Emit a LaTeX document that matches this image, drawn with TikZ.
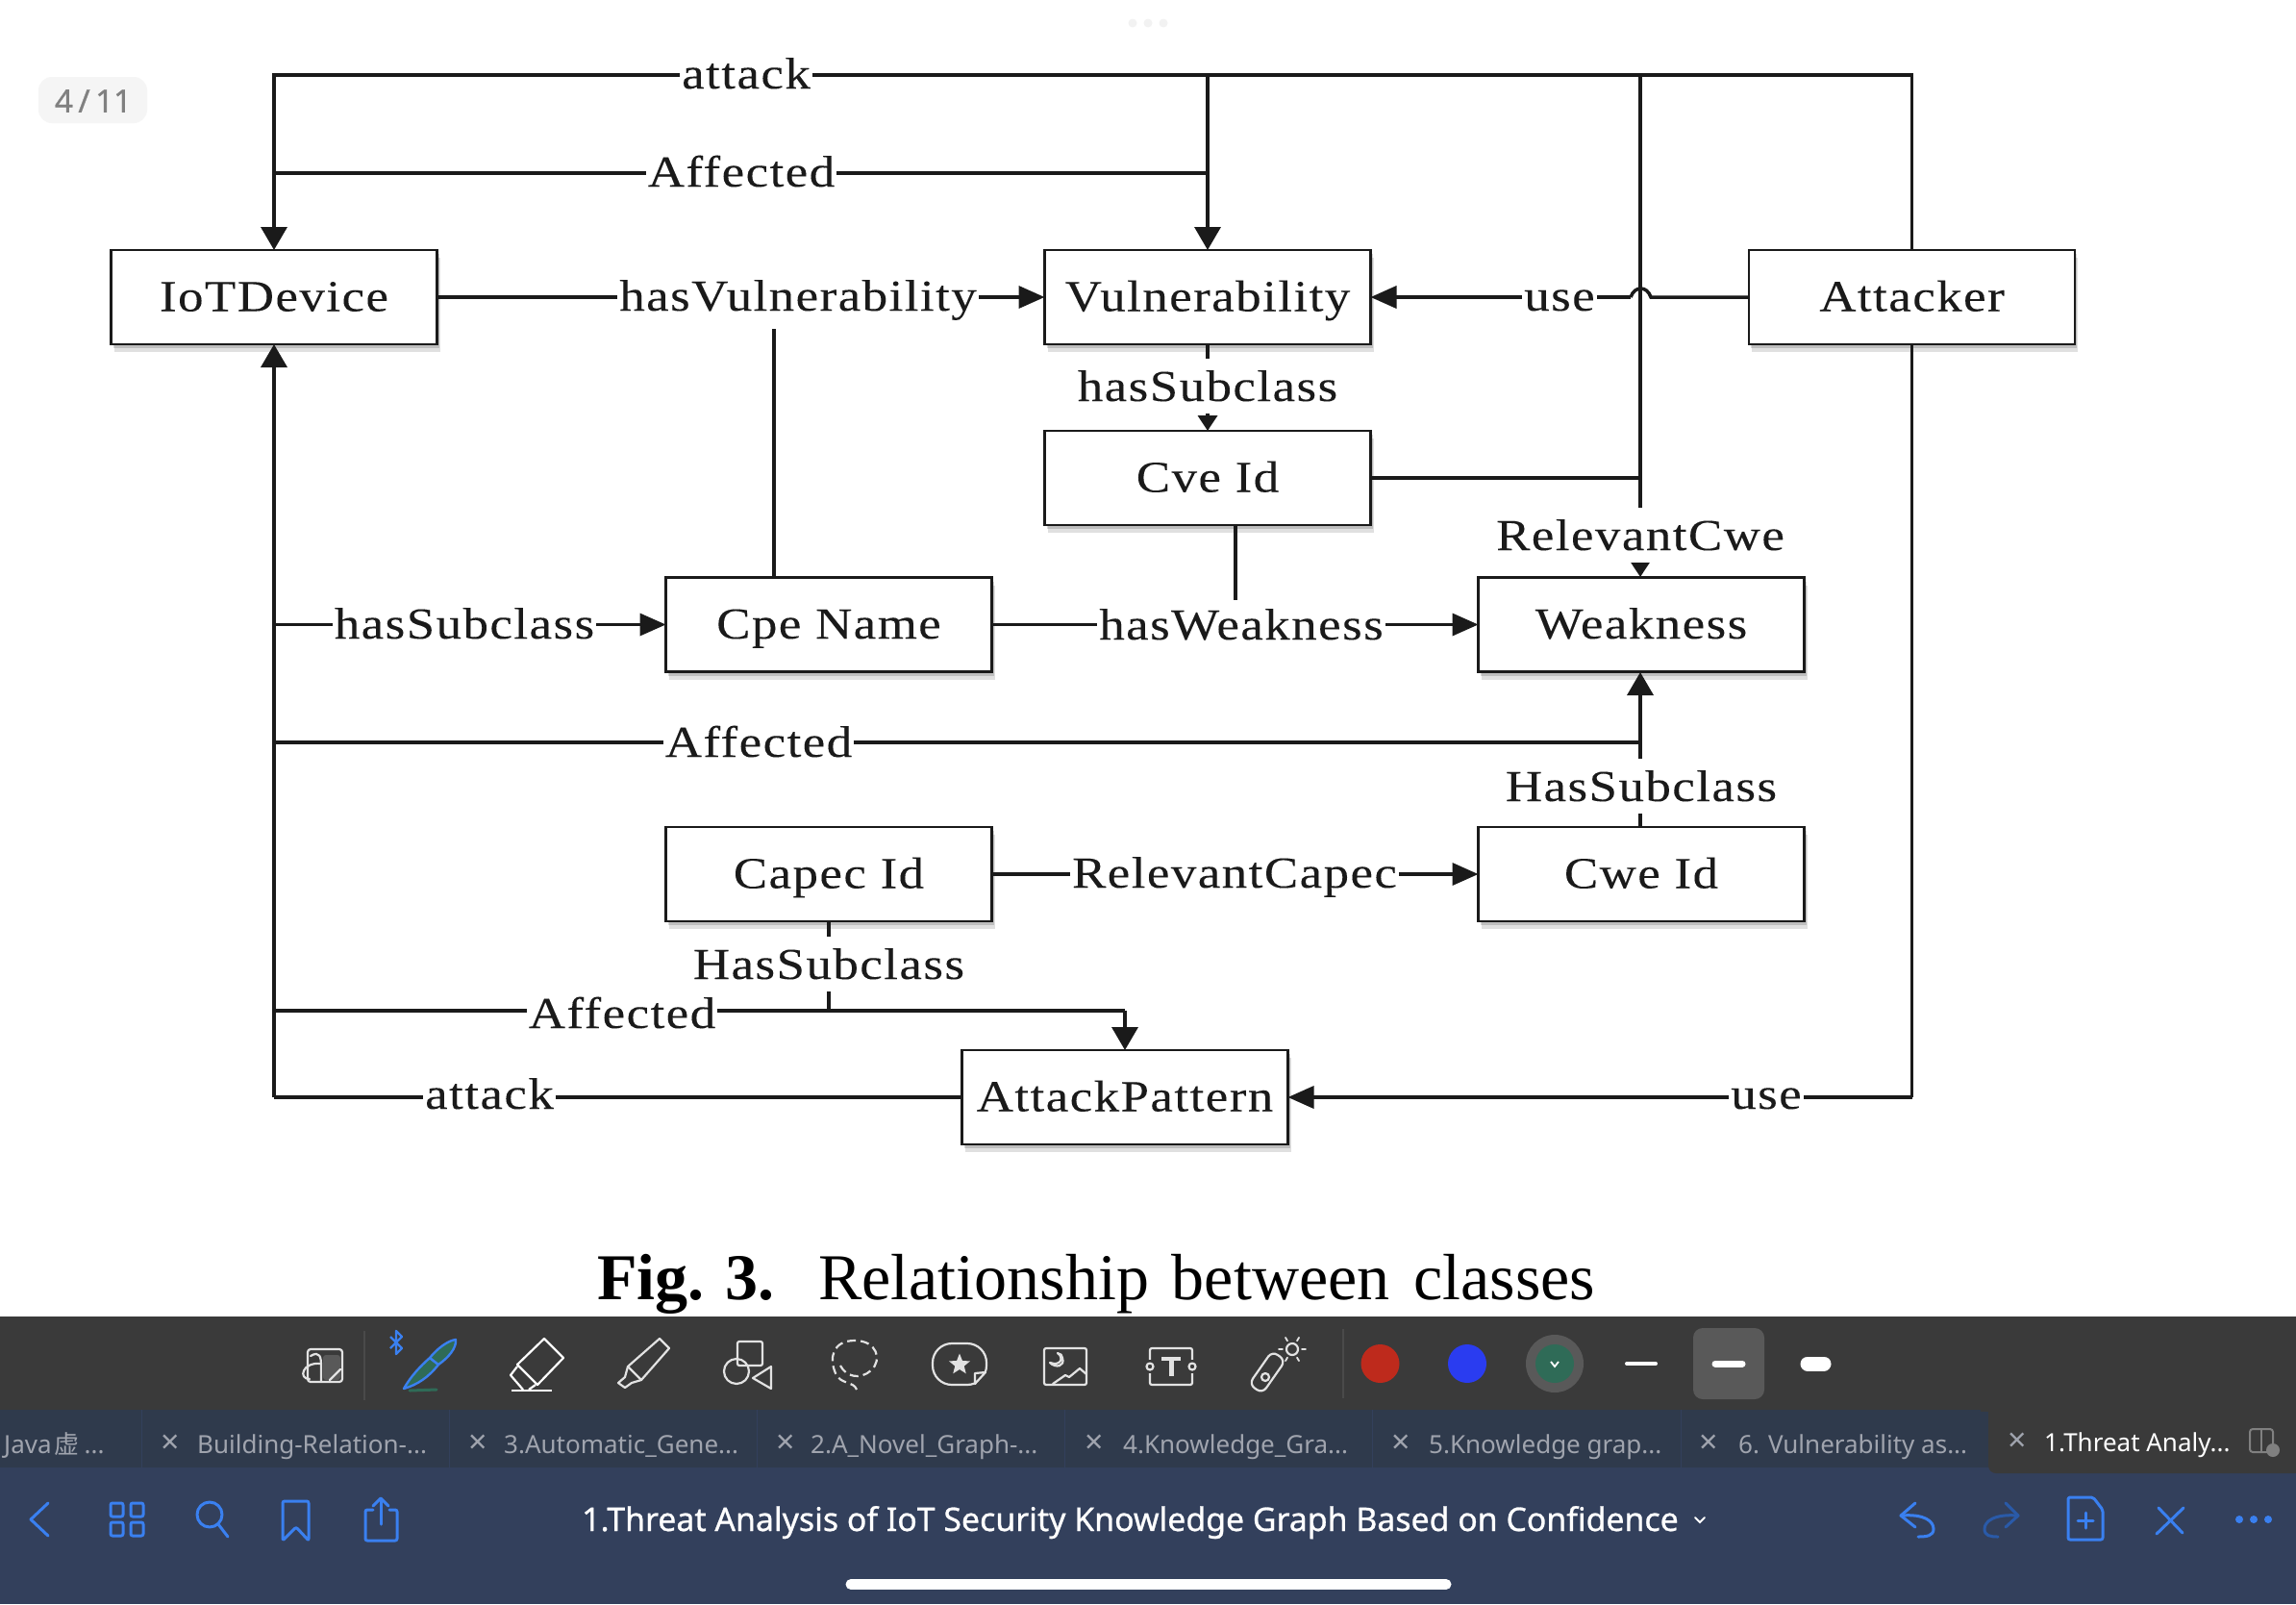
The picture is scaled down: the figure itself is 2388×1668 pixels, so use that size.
\documentclass[tikz,border=0pt]{standalone}
\usepackage{fontspec}
\usetikzlibrary{arrows.meta,shadows,shapes.geometric}
\setmainfont{Liberation Serif}[FakeStretch=1.15,LetterSpace=3.2,FakeBold=.1]
\newfontfamily\capfont{Liberation Serif}
\newfontfamily\uifont{Noto Sans}
\newfontfamily\uibold{Noto Sans}[FakeBold=.8]
\newfontfamily\cjk{Noto Sans CJK SC}
\definecolor{ink}{HTML}{1A1A1A}
\definecolor{toolbg}{HTML}{3A3A3A}
\definecolor{tabbg}{HTML}{2F3A4C}
\definecolor{navbg}{HTML}{33405C}
\definecolor{uiblue}{HTML}{3A80F0}
\definecolor{dimblue}{HTML}{2A5AA8}
\definecolor{pengreen}{HTML}{2F6B57}
\definecolor{icon}{HTML}{E2E2E2}
\definecolor{tabtxt}{HTML}{A0A4AE}
\definecolor{dotred}{HTML}{BE2A1C}
\definecolor{dotblue}{HTML}{2A3CF0}
\definecolor{faintdiv}{HTML}{4A4A4A}
\tikzset{
  classbox/.style={draw=ink,line width=2.6pt,fill=white,minimum width=339pt,minimum height=98pt,inner sep=0pt,outer sep=0pt,
    font=\fontsize{46}{50}\selectfont,text=ink,text height=29pt,text depth=0pt,
    drop shadow={shadow xshift=3pt,shadow yshift=-8pt,opacity=.12,fill=black},
    drop shadow={shadow xshift=2pt,shadow yshift=-4pt,opacity=.15,fill=black}},
  lab/.style={fill=white,font=\fontsize{46}{50}\selectfont,text=ink,anchor=base,inner xsep=2pt,inner ysep=9pt},
  lablow/.style={lab,inner ysep=12.5pt},
  conn/.style={draw=ink,line width=3.5pt},
  vtip/.style={conn,-{Triangle[length=24pt,width=27pt]}},
  htip/.style={conn,-{Triangle[length=27pt,width=23pt]}},
  smalltip/.style={conn,-{Triangle[length=16pt,width=20pt]}},
  tabt/.style={font=\uifont\fontsize{26}{28}\selectfont,text=tabtxt,anchor=base west,inner sep=0pt},
  tabx/.style={font=\uifont\fontsize{34}{38}\selectfont,text=tabtxt,inner sep=0pt},
  ic/.style={draw=icon,line width=2.2pt,line join=round,line cap=round},
  nv/.style={draw=uiblue,line width=3pt,line join=round,line cap=round},
  tabdiv/.style={draw=navbg,line width=1pt},
}
\begin{document}
\begin{tikzpicture}[x=1pt,y=-1pt]
\useasboundingbox (0,0) rectangle (2388,1668);
\fill[white] (0,0) rectangle (2388,1668);
% page badge and dots
\fill[black!4,rounded corners=14pt] (40,80) rectangle (153,128);
\node[font=\uibold\fontsize{33}{38}\selectfont,text=black!50,inner sep=0pt] (badge) at (97,105) {4\,/\,11};
\foreach \xx in {1178,1194,1210}{\fill[black!5] (\xx,24) circle (4.5pt);}
% boxes
\node[classbox] (iot) at (285,309) {IoTDevice};
\node[classbox] (vul) at (1256,309) {Vulnerability};
\node[classbox] (att) at (1988.5,309) {Attacker};
\node[classbox] (cve) at (1256,497) {Cve Id};
\node[classbox] (cpe) at (862,649.5) {Cpe Name};
\node[classbox] (wea) at (1707,649.5) {Weakness};
\node[classbox] (cap) at (862,909) {Capec Id};
\node[classbox] (cwe) at (1707,909) {Cwe Id};
\node[classbox] (apt) at (1170,1141) {AttackPattern};
% junctions
\coordinate (tl) at (285,78);
\coordinate (tv) at (1256,78);
\coordinate (tw) at (1706,78);
\coordinate (tr) at (1988.5,78);
\coordinate (ml) at (285,180);
\coordinate (mv) at (1256,180);
\coordinate (rb) at (1988.5,1141);
\coordinate (lb) at (285,1141);
\coordinate (wj) at (1706,497);
\coordinate (wt) at (1706,600);
\coordinate (wb) at (1706,699);
\coordinate (aj) at (1706,772);
\coordinate (al) at (285,772);
\coordinate (sl) at (285,649.5);
\coordinate (bl) at (285,1051);
\coordinate (ba) at (1170,1051);
\coordinate (bc) at (862,1051);
\coordinate (cu) at (805,601);
\coordinate (cv) at (805,320);
\coordinate (ws) at (1285,546);
\coordinate (wh) at (1285,649.5);
\coordinate (cs) at (1706,860);
\coordinate (hopr) at (1717,309);
\coordinate (hopl) at (1696,309);
% connectors
\draw[conn,line join=miter] (att.north -| tr) -- (tr) -- (tl) -- ++(0,2);
\draw[vtip] (tl) -- (iot.north);
\draw[conn] (tv) -- (mv);
\draw[vtip] (tv) -- (vul.north);
\draw[conn] (ml) -- (mv);
\draw[htip] (iot.east) -- (vul.west);
\draw[conn] (att.west) -- (hopr) .. controls (1713,297) and (1700,297) .. (hopl);
\draw[htip] (hopl) -- (vul.east);
\draw[smalltip] (vul.south) -- (cve.north);
\draw[conn] (tw) -- (wj);
\draw[smalltip] (wj) -- (wt);
\draw[conn] (cve.east) -- (wj);
\draw[conn] (cu) -- (cv);
\draw[conn] (ws) -- (wh);
\draw[htip] (cpe.east) -- (wea.west);
\draw[vtip] (lb) -- (iot.south);
\draw[htip] (sl) -- (cpe.west);
\draw[conn] (al) -- (aj);
\draw[vtip] (cs) -- (wb);
\draw[htip] (cap.east) -- (cwe.west);
\draw[conn] (cap.south) -- (bc);
\draw[conn] (bl) -- (ba);
\draw[vtip] (ba) -- (apt.north);
\draw[conn] (apt.west) -- (lb);
\draw[conn] (att.south -| rb) -- (rb);
\draw[htip] (rb) -- (apt.east);
% connector labels
\node[lab] (l1) at (776,92) {attack};
\node[lab] (l2) at (771,194) {Affected};
\node[lab] (l3) at (830,323) {hasVulnerability};
\node[lab] (l4) at (1622,323) {use};
\node[lablow] (l5) at (1256,417) {hasSubclass};
\node[lablow] (l6) at (1706,572) {RelevantCwe};
\node[lab] (l7) at (483,664) {hasSubclass};
\node[lab] (l8) at (1291,665) {hasWeakness};
\node[lab] (l9) at (789,787) {Affected};
\node[lablow] (l10) at (1707,833) {HasSubclass};
\node[lab] (l11) at (1284,923) {RelevantCapec};
\node[lablow] (l12) at (862,1018) {HasSubclass};
\node[lab,inner ysep=0pt] (l13) at (647,1069) {Affected};
\node[lab] (l14) at (509,1153) {attack};
\node[lab] (l15) at (1837,1153) {use};
% caption
\node[anchor=base west,inner sep=0pt,font=\fontsize{68}{72}\selectfont\capfont\bfseries,text=black] (figno) at (621,1351) {Fig.\hspace{-1pt} 3.};
\node[anchor=base west,inner sep=0pt,font=\fontsize{68}{72}\selectfont\capfont,text=black] (figcap) at (851,1351) {Relationship\hspace{7pt} between\hspace{8pt} classes};
% app chrome
\fill[toolbg] (0,1369) rectangle (2388,1466);
\fill[tabbg] (0,1466) rectangle (2388,1526);
\fill[navbg] (0,1526) rectangle (2388,1668);
\fill[toolbg,rounded corners=8pt] (2068,1460) -- (2068,1532) -- (2395,1532) -- (2395,1460) -- cycle;
\fill[toolbg] (2060,1460) rectangle (2395,1468);
\foreach \xx in {147,467.5,787.5,1107.5,1427,1748}{\draw[tabdiv] (\xx,1466) -- (\xx,1526);}
% toolbar icons
\fill[black!65,rounded corners=3pt] (336,1409) rectangle (354,1435);
\draw[ic,rounded corners=3pt] (320,1403) rectangle (356,1437);
\draw[ic] (323,1410) .. controls (333,1404) and (334,1412) .. (334,1420) -- (334,1436);
\draw[ic] (334,1418) .. controls (314,1416) and (310,1434) .. (322,1434);
\draw[ic] (343,1435) -- (354,1424);
\draw[faintdiv,line width=1.5pt] (379,1384) -- (379,1456);
\draw[fill=pengreen,draw=uiblue,line width=2.4pt,line join=round] (420,1444) .. controls (428,1430) and (438,1420) .. (447,1412) -- (456,1419) .. controls (446,1432) and (434,1440) .. (420,1444) -- cycle;
\draw[fill=pengreen,draw=uiblue,line width=2.4pt,line join=round] (447,1412) .. controls (455,1402) and (466,1394) .. (474,1393) .. controls (475,1402) and (466,1412) .. (456,1419) -- cycle;
\draw[pengreen,line width=3pt,line cap=round] (426,1446) -- (454,1445);
\draw[uiblue,line width=2.4pt,line join=round] (406,1390) -- (418,1402) -- (412,1408) -- (412,1384) -- (418,1390) -- (406,1402);
\draw[draw=white,line width=2.2pt,line join=round] (566,1392) -- (586,1412) -- (559,1440) -- (538,1419) -- cycle;
\draw[draw=white,line width=2.2pt,line join=round] (538,1421) -- (531,1430) -- (544,1445);
\draw[draw=white,line width=2.2pt] (550,1445) -- (557,1440);
\draw[draw=white,line width=2.5pt] (532,1446) -- (574,1446);
\draw[ic] (686,1392) -- (696,1402) -- (667,1435) -- (653,1421) -- cycle;
\draw[ic] (653,1421) -- (650,1432) -- (643,1438) -- (650,1443) -- (657,1438) -- (667,1435);
\draw[ic,rounded corners=2pt] (767,1395) rectangle (793,1420);
\draw[ic] (766,1426) circle (13pt);
\draw[ic] (802,1421) -- (783,1433) -- (802,1444) -- cycle;
\draw[ic,dash pattern=on 9pt off 5pt,line cap=butt] (874,1420) .. controls (880,1432) and (895,1435) .. (906,1425) .. controls (918,1414) and (912,1394) .. (889,1394) .. controls (866,1394) and (862,1412) .. (869,1428) .. controls (874,1440) and (888,1436) .. (891,1445);
\draw[ic,rounded corners=20pt] (970,1397) rectangle (1026,1440);
\fill[toolbg] (1013,1427) rectangle (1027,1441);
\draw[ic] (1014,1439) -- (1014,1428) -- (1025,1427) -- cycle;
\node[star,star points=5,star point ratio=2.3,fill=icon,inner sep=0pt,minimum size=23pt] (bstar) at (998,1419) {};
\draw[ic,rounded corners=2pt] (1086,1402) rectangle (1130,1440);
\draw[ic] (1095,1439) -- (1108,1430) -- (1112,1432) -- (1123,1423) -- (1130,1429);
\draw[ic] (1100,1407) .. controls (1107,1412) and (1103,1421) .. (1092,1417) .. controls (1098,1423) and (1108,1421) .. (1105,1412) .. controls (1105,1409) and (1103,1408) .. (1100,1407);
\draw[ic,rounded corners=2pt] (1196,1402) rectangle (1240,1440);
\fill[toolbg] (1194,1414) rectangle (1198,1428);
\fill[toolbg] (1238,1414) rectangle (1242,1428);
\draw[ic,fill=toolbg] (1196,1421) circle (3.5pt);
\draw[ic,fill=toolbg] (1240,1421) circle (3.5pt);
\draw[icon,line width=4pt] (1208,1413) -- (1228,1413);
\draw[icon,line width=5pt] (1218,1413) -- (1218,1431);
\node[draw=icon,line width=2.2pt,rounded corners=7pt,minimum width=42pt,minimum height=17pt,inner sep=0pt,rotate=55] (laser) at (1318,1427) {};
\draw[ic] (1316,1432) circle (4pt);
\draw[ic] (1344,1403) circle (6pt);
\foreach \a in {0,60,...,300}{\draw[icon,line width=1.8pt,line cap=round] (1344,1403) ++(\a:10pt) -- ++(\a:4pt);}
\draw[faintdiv,line width=1.5pt] (1397,1382) -- (1397,1454);
\fill[dotred] (1435.5,1418) circle (20pt);
\fill[dotblue] (1526,1418) circle (20pt);
\fill[black!65] (1617,1418) circle (30pt);
\fill[pengreen] (1617,1418) circle (20pt);
\draw[white,line width=1.8pt] (1613,1416) -- (1617,1421) -- (1621,1416);
\draw[white,line width=4pt,line cap=round] (1692,1418) -- (1722,1418);
\fill[black!65,rounded corners=10pt] (1761,1381) rectangle (1835,1455);
\draw[white,line width=7pt,line cap=round] (1784,1418) -- (1812,1418);
\draw[white,line width=15pt,line cap=round] (1880,1418) -- (1897,1418);
% tabs
\node[tabt] (t0) at (4,1511) {Java\hspace{3pt}{\cjk 虚}\hspace{5pt}...};
\node[tabx] (x1) at (177,1502) {×};
\node[tabt] (t1) at (205,1511) {Building-Relation-...};
\node[tabx] (x2) at (497,1502) {×};
\node[tabt] (t2) at (524,1511) {3.Automatic\_Gene...};
\node[tabx] (x3) at (817,1502) {×};
\node[tabt] (t3) at (843,1511) {2.A\_Novel\_Graph-...};
\node[tabx] (x4) at (1138,1502) {×};
\node[tabt] (t4) at (1168,1511) {4.Knowledge\_Gra...};
\node[tabx] (x5) at (1457.5,1502) {×};
\node[tabt] (t5) at (1486,1511) {5.Knowledge grap...};
\node[tabx] (x6) at (1777,1502) {×};
\node[tabt] (t6) at (1808,1511) {6. Vulnerability as...};
\node[tabx] (x7) at (2098,1500) {×};
\node[tabt,text=white] (t7) at (2126,1509) {1.Threat Analy...};
\draw[black!50,line width=2pt,rounded corners=3pt] (2340,1486) rectangle (2364,1510);
\draw[black!50,line width=2pt] (2352,1486) -- (2352,1510);
\fill[black!50] (2364,1508) circle (7pt);
% nav bar
\draw[nv] (50,1563) -- (32,1580) -- (50,1597);
\foreach \xa/\ya in {115/1563,136/1563,115/1583,136/1583}{\draw[nv,rounded corners=2pt] (\xa,\ya) rectangle ++(13,14);}
\draw[nv] (218,1575) circle (13pt);
\draw[nv] (227,1585) -- (237,1598);
\draw[nv,rounded corners=2pt] (294,1602) -- (294,1561) -- (321,1561) -- (321,1602) -- (308,1588) -- cycle;
\draw[nv,rounded corners=2pt] (388,1570) -- (380,1570) -- (380,1602) -- (413,1602) -- (413,1570) -- (405,1570);
\draw[nv] (396,1585) -- (396,1559);
\draw[nv] (388,1566) -- (396,1558) -- (404,1566);
\node[font=\uibold\fontsize{33.85}{36}\selectfont,text=white,anchor=base west,inner sep=0pt] (title) at (605,1592) {1.Threat Analysis of IoT Security Knowledge Graph Based on Confidence};
\draw[white,line width=2pt,line cap=round] (1763,1578) -- (1768,1583) -- (1773,1578);
\draw[nv] (1992,1563) -- (1977,1576) -- (1992,1588);
\draw[nv] (1977,1576) .. controls (2002,1574) and (2011,1582) .. (2011,1590) .. controls (2011,1597) and (2004,1598) .. (1995,1598);
\draw[nv,draw=dimblue] (2086,1563) -- (2099,1576) -- (2086,1588);
\draw[nv,draw=dimblue] (2099,1576) .. controls (2074,1574) and (2064,1582) .. (2064,1590) .. controls (2064,1597) and (2070,1598) .. (2078,1598);
\draw[nv,rounded corners=2pt] (2151,1557) -- (2177,1557) -- (2187,1570) -- (2187,1601) -- (2151,1601) -- cycle;
\draw[nv] (2169,1573) -- (2169,1589);
\draw[nv] (2161,1581) -- (2177,1581);
\draw[nv] (2245,1568) -- (2270,1594);
\draw[nv] (2271,1568) -- (2243,1595);
\fill[uiblue] (2329,1580) circle (4pt);
\fill[uiblue] (2344,1580) circle (4pt);
\fill[uiblue] (2359,1580) circle (4pt);
\draw[white,line width=11pt,line cap=round] (885,1647.5) -- (1504,1647.5);
\end{tikzpicture}
\end{document}
